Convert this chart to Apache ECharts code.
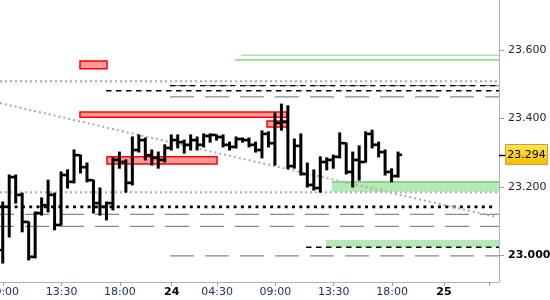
<!DOCTYPE html>
<html><head><meta charset="utf-8">
<script src="https://cdn.jsdelivr.net/npm/echarts@6/dist/echarts.min.js"></script>
<style>html,body{margin:0;padding:0;background:#fff}#c{width:550px;height:300px}</style>
</head><body><div id="c"></div>
<script>
// ---- bar data (slot index = position of the bar on the time axis) ----
const opens  = [23.016,23.142,23.229,23.177,23.098,22.996,23.124,23.147,23.177,23.089,
                23.235,23.215,23.293,23.258,23.220,23.153,23.142,23.153,23.279,23.273,
                23.212,23.308,23.337,23.293,23.285,23.279,23.314,23.337,23.331,23.323,
                23.337,23.323,23.349,23.352,23.346,23.323,23.317,23.340,23.337,23.323,
                23.308,23.355,23.328,23.387,23.390,23.261,23.320,23.238,23.206,23.197,
                23.273,23.279,23.288,23.328,23.244,23.279,23.273,23.355,23.323,23.302,
                23.244,23.232];
const highs  = [23.156,23.235,23.235,23.182,23.098,23.127,23.168,23.220,23.182,23.244,
                23.250,23.308,23.293,23.270,23.220,23.197,23.156,23.285,23.302,23.279,
                23.346,23.352,23.343,23.308,23.302,23.323,23.352,23.352,23.337,23.352,
                23.346,23.355,23.355,23.352,23.352,23.331,23.346,23.343,23.343,23.331,
                23.364,23.361,23.416,23.442,23.437,23.340,23.355,23.270,23.250,23.288,
                23.285,23.293,23.358,23.328,23.302,23.320,23.361,23.366,23.331,23.308,
                23.253,23.302];
const lows   = [22.978,23.054,23.153,23.069,22.987,22.993,23.118,23.127,23.075,23.089,
                23.197,23.212,23.241,23.215,23.124,23.118,23.104,23.133,23.255,23.185,
                23.206,23.302,23.279,23.264,23.255,23.273,23.308,23.314,23.299,23.308,
                23.308,23.317,23.331,23.337,23.317,23.308,23.314,23.331,23.317,23.302,
                23.285,23.317,23.264,23.366,23.253,23.255,23.235,23.200,23.191,23.185,
                23.250,23.255,23.285,23.238,23.200,23.220,23.273,23.314,23.288,23.235,
                23.215,23.229];
const closes = [23.142,23.229,23.177,23.098,22.996,23.124,23.147,23.177,23.089,23.235,
                23.215,23.293,23.258,23.220,23.153,23.142,23.153,23.279,23.273,23.212,
                23.308,23.337,23.293,23.285,23.279,23.314,23.337,23.331,23.323,23.337,
                23.323,23.349,23.352,23.346,23.323,23.317,23.340,23.337,23.323,23.308,
                23.355,23.328,23.387,23.390,23.261,23.320,23.238,23.206,23.197,23.273,
                23.279,23.288,23.328,23.244,23.279,23.273,23.355,23.323,23.302,23.244,
                23.232,23.294];

// ---- time axis ----
const tickSlots  = [0, 9, 18, 26, 33, 42, 51, 60, 68, 75];
const tickLabels = ['09:00','13:30','18:00','24','04:30','09:00','13:30','18:00','25'];
const boldLabels = ['24','25'];
const slotMin = -0.5, slotMax = 76.5;

// ---- price axis ----
const priceTicks = [23.0, 23.2, 23.4, 23.6];
const priceMin = 22.9226, priceMax = 23.746;

// ---- drawings: [fromSlot, toSlot, lowPrice, highPrice] ----
const redZones   = [[11.84,16.01,23.545,23.568],[11.84,43.79,23.404,23.419],
                    [40.7,43.79,23.375,23.393],[16.01,32.99,23.267,23.288]];
const greenZones = [[50.73,76.5,23.186,23.215],[49.8,76.5,23.025,23.045]];
// ---- levels: [fromSlot, toSlot, price] ----
const greenLines  = [[36.69,76.5,23.585],[35.76,76.5,23.571],[50.73,76.5,23.215]];
const grayDotted  = [[-0.5,76.5,23.509],[-0.5,76.5,23.185]];
const grayDashed  = [[25.73,76.5,23.496],[25.73,76.5,23.463],[-0.5,76.5,23.120],
                     [-0.5,76.5,23.085],[25.73,76.5,22.999]];
const blackDashed = [[25.73,76.5,23.496],[15.86,76.5,23.481],[46.72,76.5,23.024]];
const blackDotted = [[-0.5,75.88,23.142]];
const trendLine   = [[-0.5,23.445],[76.19,23.112]];

const FONT = '"DejaVu Sans", Verdana, sans-serif';
const chart = echarts.init(document.getElementById('c'), null, {renderer:'canvas'});

const bars = opens.map((o,i)=>[i,o,highs[i],lows[i],closes[i]]);
const xLabels = tickLabels.map((t,k)=>[tickSlots[k], k]);

function levelSeries(list, style, z){
  return list.map(([a,b,v],k)=>({
    type:'line', silent:true, symbol:'none', z:z, animation:false,
    data:[[a,v],[b,v]],
    lineStyle: typeof style==='function'? style(k) : style
  }));
}

const series = [
  { type:'custom', z:1, silent:true, data:redZones,
    renderItem:(p,api)=>{
      const a=api.coord([api.value(0),api.value(3)]), b=api.coord([api.value(1),api.value(2)]);
      return {type:'rect', shape:{x:a[0],y:a[1],width:b[0]-a[0],height:b[1]-a[1]},
              style:{fill:'#ff9a9a',stroke:'#ff0000',lineWidth:1.5}};
    }},
  { type:'custom', z:1, silent:true, data:greenZones,
    renderItem:(p,api)=>{
      const a=api.coord([api.value(0),api.value(3)]), b=api.coord([api.value(1),api.value(2)]);
      return {type:'rect', shape:{x:a[0],y:a[1],width:b[0]-a[0],height:b[1]-a[1]},
              style:{fill:'#b4e8b4'}};
    }},
  ...levelSeries(greenLines, k=>({color:k===0?'#88d088':'#44c044', width:1}), 2),
  ...levelSeries(grayDotted, {color:'#aaaaaa', width:2, type:[2,3]}, 2),
  ...levelSeries(grayDashed, k=>({color:'#888888', width:1.2, type:[24,11], dashOffset:(k===2||k===3)?10:0}), 2),
  ...levelSeries(blackDashed, {color:'#000000', width:1.4, type:[5.5,4.5]}, 2),
  ...levelSeries(blackDotted, {color:'#000000', width:2.6, type:[3,4.3]}, 2),
  { type:'line', silent:true, symbol:'none', z:2, data:trendLine,
    lineStyle:{color:'#aaaaaa', width:2, type:[2,3]} },
  { type:'custom', z:3, silent:true, data:bars,
    renderItem:(p,api)=>{
      const i=api.value(0);
      const o=api.coord([i,api.value(1)]), h=api.coord([i,api.value(2)]),
            l=api.coord([i,api.value(3)]), c=api.coord([i,api.value(4)]);
      const x=o[0]-0.5;
      return {type:'group', children:[
        {type:'line', shape:{x1:x,y1:h[1]-0.5,x2:x,y2:l[1]+0.5}, style:{stroke:'#000',lineWidth:3}},
        {type:'line', shape:{x1:x-4,y1:o[1],x2:x,y2:o[1]}, style:{stroke:'#000',lineWidth:2.5}},
        {type:'line', shape:{x1:x,y1:c[1],x2:x+4,y2:c[1]}, style:{stroke:'#000',lineWidth:2.5}}
      ]};
    }},
  { type:'custom', z:5, silent:true, clip:false, data:xLabels,
    renderItem:(p,api)=>{
      const pt=api.coord([api.value(0), priceMin]);
      const t=tickLabels[api.value(1)];
      const bold=boldLabels.includes(t);
      return {type:'text', style:{text:t, x:pt[0], y:pt[1]+10.5,
        font:(bold?'bold ':'')+'11px '+FONT, fill:bold?'#000':'#1c3262',
        textAlign:'center', textVerticalAlign:'middle', align:'center', verticalAlign:'middle'}};
    }},
  { type:'custom', z:5, silent:true, clip:false, data:[[slotMax, closes[closes.length-1]]],
    renderItem:(p,api)=>{
      const pt=api.coord([api.value(0),api.value(1)]);
      const x=pt[0], y=Math.round(pt[1]);
      return {type:'group', children:[
        {type:'line', shape:{x1:x,y1:y+0.5,x2:x+6,y2:y+0.5}, style:{stroke:'#000',lineWidth:1.5}},
        {type:'rect', shape:{x:x+6.5,y:y-10.5,width:42,height:20},
          style:{fill:new echarts.graphic.LinearGradient(0,0,0,1,[{offset:0,color:'#ffe650'},{offset:1,color:'#f5bc00'}]),
                 stroke:'#b9a24a', lineWidth:1}},
        {type:'text', style:{text:api.value(1).toFixed(3), x:x+27.5, y:y, font:'11px '+FONT,
          fill:'#000', textAlign:'center', textVerticalAlign:'middle', align:'center', verticalAlign:'middle'}}
      ]};
    }}
];

chart.setOption({
  animation:false,
  backgroundColor:'#ffffff',
  grid:{left:0, right:51, top:0, bottom:18, containLabel:false, outerBoundsMode:'none'},
  xAxis:{
    type:'value', min:slotMin, max:slotMax, position:'bottom',
    splitLine:{show:false},
    axisLine:{show:true, onZero:false, lineStyle:{color:'#b4b4b4', width:1}},
    axisTick:{show:true, customValues:tickSlots, length:4, lineStyle:{color:'#a0a0a0'}},
    axisLabel:{show:false}
  },
  yAxis:{
    type:'value', position:'right', min:priceMin, max:priceMax, scale:true,
    splitLine:{show:false},
    axisLine:{show:true, onZero:false, lineStyle:{color:'#b4b4b4', width:1}},
    axisTick:{show:true, customValues:priceTicks, length:5, lineStyle:{color:'#a0a0a0'}},
    axisLabel:{show:true, customValues:priceTicks, margin:9,
      formatter:v=>{ const t=v.toFixed(3); return Math.abs(v-Math.round(v))<1e-9?'{b|'+t+'}':t; },
      fontFamily:FONT, fontSize:11, color:'#222633',
      rich:{b:{fontFamily:FONT, fontSize:11, fontWeight:'bold', color:'#000'}}}
  },
  series:series
});
</script>
</body></html>
